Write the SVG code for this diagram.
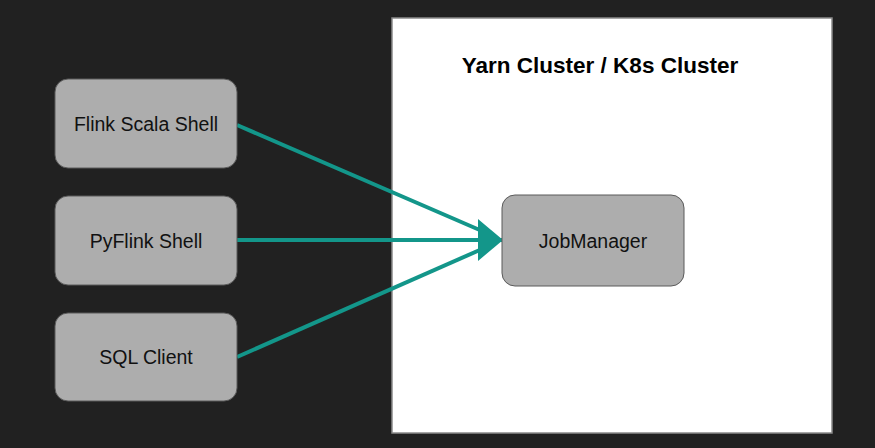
<svg xmlns="http://www.w3.org/2000/svg" width="875" height="448" viewBox="0 0 875 448">
<style>
.node rect{fill:#adadad;stroke:#5a5a5a;stroke-width:1}
.node text{font-family:"Liberation Sans",Arial,sans-serif;font-size:19.5px;fill:#111;text-anchor:middle}
.title{font-family:"Liberation Sans",Arial,sans-serif;font-size:22.5px;font-weight:bold;fill:#000;text-anchor:middle}
.conn line{stroke:#13968a;stroke-width:4;fill:none}
</style>
<defs>
<marker id="ah" markerUnits="userSpaceOnUse" markerWidth="27" markerHeight="42" refX="25" refY="21" orient="auto">
<polygon points="0,0 25,21 0,42" fill="#13968a"/>
</marker>
</defs>
<rect width="875" height="448" fill="#212121"/>
<g id="cluster">
<rect x="392" y="18" width="440" height="415" fill="#fff" stroke="#8a8a8a" stroke-width="1.5"/>
<text class="title" x="600" y="73">Yarn Cluster / K8s Cluster</text>
</g>
<g class="conn" id="connectors">
<line x1="237" y1="125" x2="482" y2="231"/>
<line x1="237" y1="357" x2="482" y2="249"/>
<line x1="237" y1="240" x2="503" y2="240" marker-end="url(#ah)"/>
</g>
<g id="flink-scala-shell" class="node">
<rect x="55" y="79" width="182" height="89" rx="13"/>
<text x="146" y="131">Flink Scala Shell</text>
</g>
<g id="pyflink-shell" class="node">
<rect x="55" y="196" width="182" height="89" rx="13"/>
<text x="146" y="248">PyFlink Shell</text>
</g>
<g id="sql-client" class="node">
<rect x="55" y="313" width="182" height="88" rx="13"/>
<text x="146" y="364">SQL Client</text>
</g>
<g id="jobmanager" class="node">
<rect x="502" y="195" width="182" height="91" rx="13"/>
<text x="593" y="248">JobManager</text>
</g>
</svg>
